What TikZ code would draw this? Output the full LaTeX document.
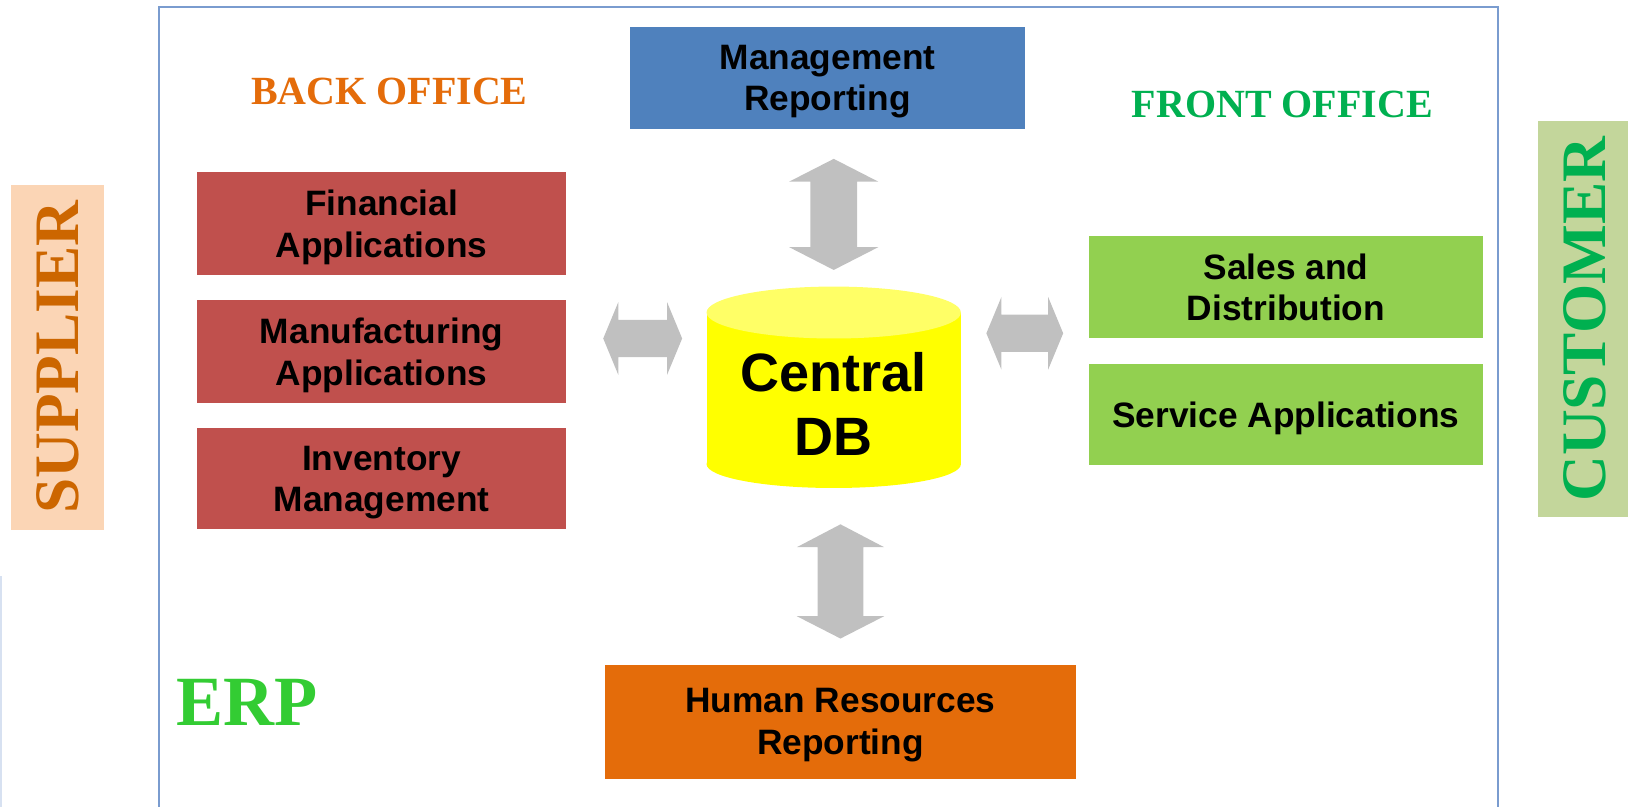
\documentclass[tikz,border=0pt]{standalone}
\usepackage{fontspec}
\setmainfont{Liberation Serif}
\setsansfont{Liberation Sans}
\definecolor{mrblue}{HTML}{4F81BD}
\definecolor{bored}{HTML}{C0504D}
\definecolor{fogreen}{HTML}{92D050}
\definecolor{hrorange}{HTML}{E46C0A}
\definecolor{bocol}{HTML}{E46C0A}
\definecolor{focol}{HTML}{00B050}
\definecolor{erpcol}{HTML}{33CC33}
\definecolor{supfill}{HTML}{FBD5B5}
\definecolor{supcol}{HTML}{CC6600}
\definecolor{cusfill}{HTML}{C3D69B}
\definecolor{cuscol}{HTML}{00B050}
\definecolor{lnkgray}{HTML}{C0C0C0}
\definecolor{frm}{HTML}{7A9CCF}
\definecolor{dbbody}{HTML}{FFFF00}
\definecolor{dbtop}{HTML}{FFFF66}
\tikzstyle{blk}=[inner sep=0pt, text depth=0pt, align=center, font=\sffamily\bfseries\fontsize{34}{40}\selectfont]
\tikzstyle{ttl}=[inner sep=0pt, font=\bfseries\fontsize{38.5}{44}\selectfont]
\tikzstyle{side}=[inner sep=0pt, rotate=90, font=\bfseries\fontsize{61}{70}\selectfont]
\tikzstyle{lnk}=[fill=lnkgray]

\begin{document}
\begin{tikzpicture}[x=1pt,y=-1pt]
    \useasboundingbox (0,0) rectangle (1568,777);
    \draw[frm, line width=1.5pt] (153,7) rectangle (1443,800);
    \draw[frm!30, line width=2.5pt] (1,555) -- (1,777);

    \node[ttl, text=bocol] (bo) at (375,88) {BACK OFFICE};
    \node[ttl, text=focol] (fo) at (1235,100.5) {FRONT OFFICE};
    \node[inner sep=0pt, text=erpcol, font=\bfseries\fontsize{68}{76}\selectfont] (erp) at (238,676.5) {ERP};

    \node[side, fill=supfill, text=supcol, minimum width=332pt, minimum height=89pt] (sup) at (55.5,344) {SUPPLIER};
    \node[side, fill=cusfill, text=cuscol, minimum width=381pt, minimum height=90pt] (cus) at (1526,307.5) {CUSTOMER};

    \node[blk, fill=mrblue, minimum width=380pt, minimum height=98pt] (mr) at (797,75) {Management\\Reporting};

    \node[blk, fill=bored, minimum width=355pt, minimum height=99pt] (fa) at (367.5,215.5) {Financial\\Applications};
    \node[blk, fill=bored, minimum width=355pt, minimum height=99pt] (ma) at (367.5,338.5) {Manufacturing\\Applications};
    \node[blk, fill=bored, minimum width=355pt, minimum height=97pt] (im) at (367.5,461) {Inventory\\Management};

    \node[blk, fill=fogreen, minimum width=380pt, minimum height=99pt] (sd) at (1238.5,276.5) {Sales and\\Distribution};
    \node[blk, fill=fogreen, minimum width=380pt, minimum height=97pt] (sa) at (1238.5,399.5) {Service Applications};

    \node[blk, fill=hrorange, minimum width=453pt, minimum height=110pt] (hr) at (809.5,695) {Human Resources\\Reporting};

    % central database
    \fill[dbbody] (680.5,301) rectangle (925.5,447);
    \fill[dbbody] (803,447) ellipse [x radius=122.5, y radius=23];
    \fill[dbtop] (803,301) ellipse [x radius=122.5, y radius=25];
    \node[inner sep=0pt, align=center, font=\sffamily\bfseries\fontsize{52}{62}\selectfont] (db) at (803,389) {Central\\DB};

    % double arrows
    \fill[lnk] (803,153) -- (846,175) -- (825.5,175) -- (825.5,238) -- (846,238) -- (803,260)
        -- (760,238) -- (780.5,238) -- (780.5,175) -- (760,175) -- cycle;
    \fill[lnk] (809.5,505) -- (851.5,527) -- (831.5,527) -- (831.5,593.5) -- (851.5,593.5) -- (809.5,615)
        -- (767.5,593.5) -- (787.5,593.5) -- (787.5,527) -- (767.5,527) -- cycle;
    \fill[lnk] (581,326) -- (595.5,291) -- (595.5,308) -- (642.5,308) -- (642.5,291) -- (657,326)
        -- (642.5,361) -- (642.5,344) -- (595.5,344) -- (595.5,361) -- cycle;
    \fill[lnk] (950,321) -- (964.5,286) -- (964.5,303) -- (1009.5,303) -- (1009.5,286) -- (1024,321)
        -- (1009.5,356) -- (1009.5,339) -- (964.5,339) -- (964.5,356) -- cycle;
\end{tikzpicture}
\end{document}
